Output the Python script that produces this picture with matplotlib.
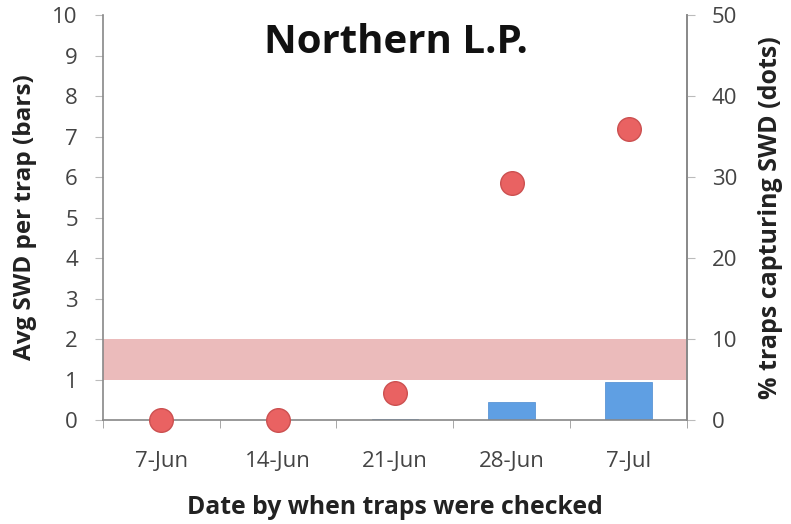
import matplotlib
matplotlib.use("Agg")
import matplotlib.pyplot as plt
import numpy as np

dates = ["7-Jun", "14-Jun", "21-Jun", "28-Jun", "7-Jul"]
avg_swd = [0.0, 0.0, 0.02, 0.44, 0.94]
pct_traps = [0.0, 0.0, 3.3, 29.3, 36.0]
band_low, band_high = 1.0, 2.0

plt.rcParams['font.family'] = ['Open Sans', 'DejaVu Sans']

fig = plt.figure(figsize=(7.91, 5.24), dpi=100)
ax = fig.add_axes([0.130, 0.1985, 0.7385, 0.7725])
x = np.arange(len(dates))

ax.axhspan(band_low, band_high, color="#e8b0b0", alpha=0.85, lw=0, zorder=0)
ax.bar(x, avg_swd, width=0.4, color="#5f9fe3", edgecolor="#4a8ad0", lw=0.5, zorder=2)

tick_font = 16
ax.set_xlim(-0.5, len(dates) - 0.5)
ax.set_ylim(0, 10)
ax.set_yticks(range(0, 11))
ax.set_xticks(x)
ax.set_xticklabels(dates)
ax.set_xticks(np.arange(-0.5, len(dates)), minor=True)
ax.tick_params(axis="x", which="major", length=0, pad=22, labelsize=tick_font, labelcolor="#444444")
ax.tick_params(axis="x", which="minor", length=6, color="#999999", direction="out")
ax.tick_params(axis="y", length=6, color="#bbbbbb", labelsize=tick_font, labelcolor="#444444", pad=12)
ax.spines["top"].set_visible(False)
for s in ["left", "right", "bottom"]:
    ax.spines[s].set_color("#888888")
    ax.spines[s].set_linewidth(1.2)
ax.set_ylabel("Avg SWD per trap (bars)", fontsize=17.5, fontweight="bold", color="#222222", labelpad=11)
ax.set_xlabel("Date by when traps were checked", fontsize=17.8, fontweight="bold", color="#222222", labelpad=17)

ax2 = ax.twinx()
ax2.set_ylim(0, 50)
ax2.set_yticks(range(0, 51, 10))
ax2.plot(x, pct_traps, linestyle="none", marker="o", markersize=17,
         markerfacecolor="#e96262", markeredgecolor="#cc5050", markeredgewidth=1.0,
         zorder=5, clip_on=False)
ax2.tick_params(axis="y", length=6, color="#bbbbbb", labelsize=tick_font, labelcolor="#444444", pad=12)
for s in ["top", "left", "bottom"]:
    ax2.spines[s].set_visible(False)
ax2.spines["right"].set_color("#888888")
ax2.spines["right"].set_linewidth(1.2)
ax2.set_ylabel("% traps capturing SWD (dots)", fontsize=18, fontweight="bold", color="#222222", labelpad=15)

fig.text(0.50, 0.918, "Northern L.P.", ha="center", va="center", fontsize=29, fontweight="bold", color="#111111")

fig.savefig("out.png", dpi=100)
